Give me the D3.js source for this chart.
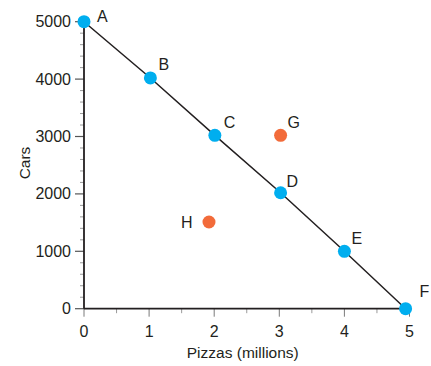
<!DOCTYPE html>
<html>
<head>
<meta charset="utf-8">
<script src="https://cdn.jsdelivr.net/npm/d3@7"></script>
<style>
  html, body { margin: 0; padding: 0; background: #fff; }
  svg { display: block; font-family: "Liberation Sans", Arial, Helvetica, sans-serif; }
</style>
</head>
<body>
<svg id="chart" width="431" height="366"></svg>
<script>
// ---- data ----
const frontierNames = ["A", "B", "C", "D", "E", "F"];
const frontierPizzas = [0, 1.02, 2.01, 3.02, 4.0, 4.94];
const frontierCars = [5000, 4020, 3020, 2020, 1000, 0];

const otherNames = ["G", "H"];
const otherPizzas = [3.02, 1.92];
const otherCars = [3020, 1510];

const xTicks = [0, 1, 2, 3, 4, 5];
const xMinorTicks = [0.5, 1.5, 2.5, 3.5, 4.5];
const yTicks = [0, 1000, 2000, 3000, 4000, 5000];
const yMinorTicks = d3.range(0, 5001, 200).filter(v => v % 1000 !== 0);

const xTitle = "Pizzas (millions)";
const yTitle = "Cars";

// ---- layout / style ----
const labelOffsets = {
  A: [13, 0], B: [8, -8], C: [9, -7], D: [6, -6], E: [7, -7],
  F: [14, -12], G: [7, -7], H: [-28, 6]
};
const blue = "#00aeef";
const orange = "#f26b3a";
const ink = "#231f20";

const svg = d3.select("#chart");
const x = d3.scaleLinear().domain([0, 5]).range([84, 409.5]);
const y = d3.scaleLinear().domain([0, 5000]).range([308.7, 21.7]);

// minor ticks
const gx = svg.append("g");
gx.selectAll("line.minor").data(xMinorTicks).join("line")
  .attr("x1", d => x(d)).attr("x2", d => x(d))
  .attr("y1", y(0)).attr("y2", y(0) + 4.5)
  .attr("stroke", "#9a9a9a").attr("stroke-width", 1);
gx.selectAll("line.major").data(xTicks).join("line")
  .attr("x1", d => x(d)).attr("x2", d => x(d))
  .attr("y1", y(0)).attr("y2", y(0) + 8)
  .attr("stroke", "#7a7a7a").attr("stroke-width", 1);
gx.selectAll("text").data(xTicks).join("text")
  .attr("x", d => x(d)).attr("y", y(0) + 28)
  .attr("text-anchor", "middle")
  .attr("font-size", 16).attr("fill", ink)
  .text(d => d);

const gy = svg.append("g");
gy.selectAll("line.minor").data(yMinorTicks).join("line")
  .attr("x1", x(0) - 4).attr("x2", x(0))
  .attr("y1", d => y(d)).attr("y2", d => y(d))
  .attr("stroke", "#9a9a9a").attr("stroke-width", 1);
gy.selectAll("line.major").data(yTicks).join("line")
  .attr("x1", x(0) - 9).attr("x2", x(0))
  .attr("y1", d => y(d)).attr("y2", d => y(d))
  .attr("stroke", "#555").attr("stroke-width", 1.2);
gy.selectAll("text").data(yTicks).join("text")
  .attr("x", x(0) - 13).attr("y", d => y(d) + 5.5)
  .attr("text-anchor", "end")
  .attr("font-size", 16).attr("fill", ink)
  .text(d => d);

// axis lines
svg.append("line")
  .attr("x1", x(0)).attr("x2", x(0)).attr("y1", y(5000)).attr("y2", y(0))
  .attr("stroke", ink).attr("stroke-width", 1.8);
svg.append("line")
  .attr("x1", x(0)).attr("x2", x(5)).attr("y1", y(0)).attr("y2", y(0))
  .attr("stroke", ink).attr("stroke-width", 1.8);

// axis titles
svg.append("text")
  .attr("x", x(2.5) - 4).attr("y", 358)
  .attr("text-anchor", "middle").attr("font-size", 15.5).attr("fill", ink)
  .text(xTitle);
svg.append("text")
  .attr("transform", `translate(30,${163}) rotate(-90)`)
  .attr("text-anchor", "middle").attr("font-size", 15.5).attr("fill", ink)
  .text(yTitle);

// frontier line
const frontier = frontierNames.map((n, i) => ({ name: n, px: frontierPizzas[i], cars: frontierCars[i] }));
const others = otherNames.map((n, i) => ({ name: n, px: otherPizzas[i], cars: otherCars[i] }));

svg.append("path")
  .datum(frontier)
  .attr("d", d3.line().x(d => x(d.px)).y(d => y(d.cars)))
  .attr("fill", "none").attr("stroke", ink).attr("stroke-width", 1.5);

svg.selectAll("circle.f").data(frontier).join("circle")
  .attr("class", "f")
  .attr("cx", d => x(d.px)).attr("cy", d => y(d.cars)).attr("r", 6.5)
  .attr("fill", blue);
svg.selectAll("circle.o").data(others).join("circle")
  .attr("class", "o")
  .attr("cx", d => x(d.px)).attr("cy", d => y(d.cars)).attr("r", 6.5)
  .attr("fill", orange);

svg.selectAll("text.lbl").data(frontier.concat(others)).join("text")
  .attr("class", "lbl")
  .attr("x", d => x(d.px) + labelOffsets[d.name][0])
  .attr("y", d => y(d.cars) + labelOffsets[d.name][1])
  .attr("font-size", 16).attr("fill", ink)
  .text(d => d.name);
</script>
</body>
</html>
